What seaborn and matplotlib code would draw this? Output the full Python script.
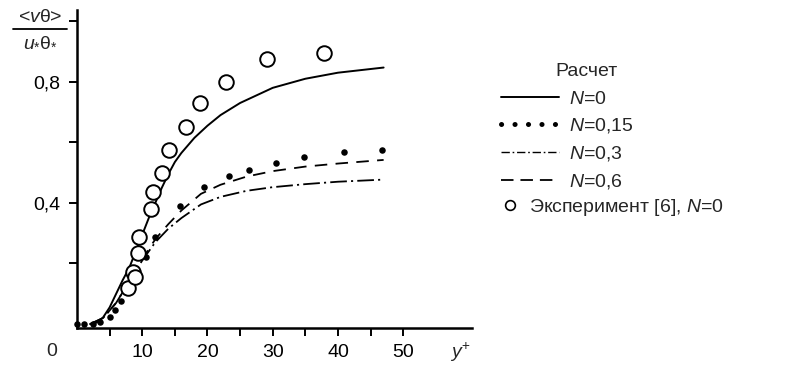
import numpy as np
import pandas as pd
import matplotlib
matplotlib.use("Agg")
import matplotlib.pyplot as plt
from matplotlib.lines import Line2D
import seaborn as sns

# ---- data ----
x_n0 = [2, 3, 4, 5, 6, 7, 8, 9, 10, 11, 12, 13, 14, 15, 16, 18, 20, 22, 25, 30, 35, 40, 47]
y_n0 = [0.0, 0.005, 0.022, 0.055, 0.1, 0.145, 0.185, 0.24, 0.295, 0.35, 0.40, 0.45,
        0.495, 0.535, 0.565, 0.615, 0.655, 0.69, 0.73, 0.78, 0.81, 0.83, 0.847]

x_n015 = [0, 1, 2.5, 3.5, 5.1, 5.8, 6.7, 7.8, 9.0, 10.5, 12.0, 15.8, 19.5, 23.3, 26.4,
          30.5, 34.8, 40.9, 46.8]
y_n015 = [0.0, 0.0, 0.0, 0.006, 0.023, 0.046, 0.076, 0.11, 0.16, 0.22, 0.287, 0.39,
          0.453, 0.489, 0.509, 0.532, 0.552, 0.568, 0.575]

x_n03 = [2, 4, 6, 8, 10, 12, 14, 16, 19, 22, 26, 30, 35, 40, 47]
y_n03 = [0.0, 0.02, 0.07, 0.14, 0.21, 0.27, 0.315, 0.35, 0.395, 0.42, 0.44, 0.452,
         0.462, 0.47, 0.477]

x_n06 = [2, 4, 6, 8, 10, 12, 14, 16, 19, 22, 26, 30, 35, 40, 47]
y_n06 = [0.0, 0.02, 0.07, 0.14, 0.215, 0.28, 0.33, 0.375, 0.43, 0.46, 0.487, 0.505,
         0.52, 0.53, 0.542]

x_exp = [7.8, 8.6, 8.9, 9.4, 9.5, 11.3, 11.7, 13.0, 14.1, 16.7, 18.9, 22.9, 29.1, 37.9]
y_exp = [0.119, 0.172, 0.155, 0.235, 0.287, 0.380, 0.436, 0.499, 0.575, 0.651, 0.730,
         0.799, 0.875, 0.895]

x_ticklabels = ["10", "20", "30", "40", "50"]
y_ticklabels = ["0,4", "0,8"]
legend_labels = ["$\\mathit{N}$=0", "$\\mathit{N}$=0,15", "$\\mathit{N}$=0,3", "$\\mathit{N}$=0,6"]
exp_label = "Эксперимент [6], $\\mathit{N}$=0"
legend_title = "Расчет"

# ---- style ----
sns.set_theme(style="ticks")
plt.rcParams["font.family"] = ["Liberation Sans", "DejaVu Sans"]
plt.rcParams["mathtext.fontset"] = "custom"
plt.rcParams["mathtext.rm"] = "Liberation Sans"
plt.rcParams["mathtext.it"] = "Liberation Sans:italic"
plt.rcParams["mathtext.bf"] = "Liberation Sans:bold"
plt.rcParams["lines.scale_dashes"] = False

fig = plt.figure(figsize=(8.03, 3.65), dpi=100)
ax = fig.add_axes([77 / 803, 1 - 327.7 / 365, (471.7 - 77) / 803, (327.7 - 10) / 365])

df0 = pd.DataFrame({"x": x_n0, "y": y_n0})
df3 = pd.DataFrame({"x": x_n03, "y": y_n03})
df6 = pd.DataFrame({"x": x_n06, "y": y_n06})
df15 = pd.DataFrame({"x": x_n015, "y": y_n015})
dfe = pd.DataFrame({"x": x_exp, "y": y_exp})

sns.lineplot(data=df0, x="x", y="y", ax=ax, color="black", lw=1.4, sort=False)
sns.lineplot(data=df3, x="x", y="y", ax=ax, color="black", lw=1.3, sort=False)
ax.lines[-1].set_dashes((12, 3, 1.5, 3))
sns.lineplot(data=df6, x="x", y="y", ax=ax, color="black", lw=1.3, sort=False)
ax.lines[-1].set_dashes((9, 6))
sns.scatterplot(data=df15, x="x", y="y", ax=ax, color="black", s=22, marker="o",
                edgecolor="black", linewidth=0, clip_on=False, zorder=4)
sns.scatterplot(data=dfe, x="x", y="y", ax=ax, s=110, marker="o",
                facecolor="white", edgecolor="black", linewidth=1.4, zorder=5)

ax.set_xlim(0, 60.5)
ax.set_ylim(-0.012, 1.037)
ax.set_xlabel("")
ax.set_ylabel("")

ax.set_xticks([5, 10, 15, 20, 25, 30, 35, 40, 45, 50])
ax.set_xticklabels(["", x_ticklabels[0], "", x_ticklabels[1], "", x_ticklabels[2], "",
                    x_ticklabels[3], "", x_ticklabels[4]])
ax.set_yticks([0.2, 0.4, 0.6, 0.8, 1.0])
ax.set_yticklabels(["", y_ticklabels[0], "", y_ticklabels[1], ""])
ax.tick_params(axis="both", direction="out", length=6, width=1.4, color="black",
               labelsize=14, labelcolor="black", pad=6)
for s in ["top", "right"]:
    ax.spines[s].set_visible(False)
for s in ["left", "bottom"]:
    ax.spines[s].set_linewidth(1.8)
    ax.spines[s].set_color("black")

# origin label and axis name
fig.text(52 / 803, 1 - 352 / 365, "0", fontsize=14, ha="center", va="center")
fig.text(460 / 803, 1 - 352 / 365, "$\\mathit{y}^{+}$", fontsize=14, ha="center", va="center")

# y-axis fraction label (numerator, bar, denominator)
fig.text(40 / 803, 1 - 18 / 365, "<$\\mathit{v}$\u03b8>", fontsize=14,
         ha="center", va="center")
fig.add_artist(Line2D([13 / 803, 67 / 803], [1 - 29 / 365, 1 - 29 / 365],
                      color="black", lw=1.3, transform=fig.transFigure))
fig.text(40 / 803, 1 - 42 / 365, "$\\mathit{u}_{*}$\u03b8$_{*}$", fontsize=14,
         ha="center", va="center")

# legend
handles = [
    Line2D([], [], color="black", lw=1.4),
    Line2D([], [], color="black", lw=3.6, dashes=(0.1, 9.6),
           dash_capstyle="round"),
    Line2D([], [], color="black", lw=1.0, dashes=(6, 2, 1.2, 2)),
    Line2D([], [], color="black", lw=1.3, dashes=(9, 5)),
]
leg = fig.legend(handles, legend_labels, loc="upper left",
                 bbox_to_anchor=(501 / 803, 1 - 90 / 365), frameon=False,
                 fontsize=14, handlelength=3.0, handletextpad=0.5, labelspacing=0.45,
                 borderpad=0, borderaxespad=0)
exp_handle = Line2D([], [], linestyle="none", marker="o", markersize=7,
                    markerfacecolor="white", markeredgecolor="black", markeredgewidth=1.2)
fig.text(555 / 803, 1 - 72 / 365, legend_title, fontsize=14, ha="left", va="center")
leg2 = fig.legend([exp_handle], [exp_label], loc="upper left",
                  bbox_to_anchor=(500 / 803, 1 - 197 / 365), frameon=False,
                  fontsize=14, handlelength=1.0, handletextpad=0.5,
                  borderpad=0, borderaxespad=0)

fig.savefig("out.png", dpi=100, facecolor="white")
